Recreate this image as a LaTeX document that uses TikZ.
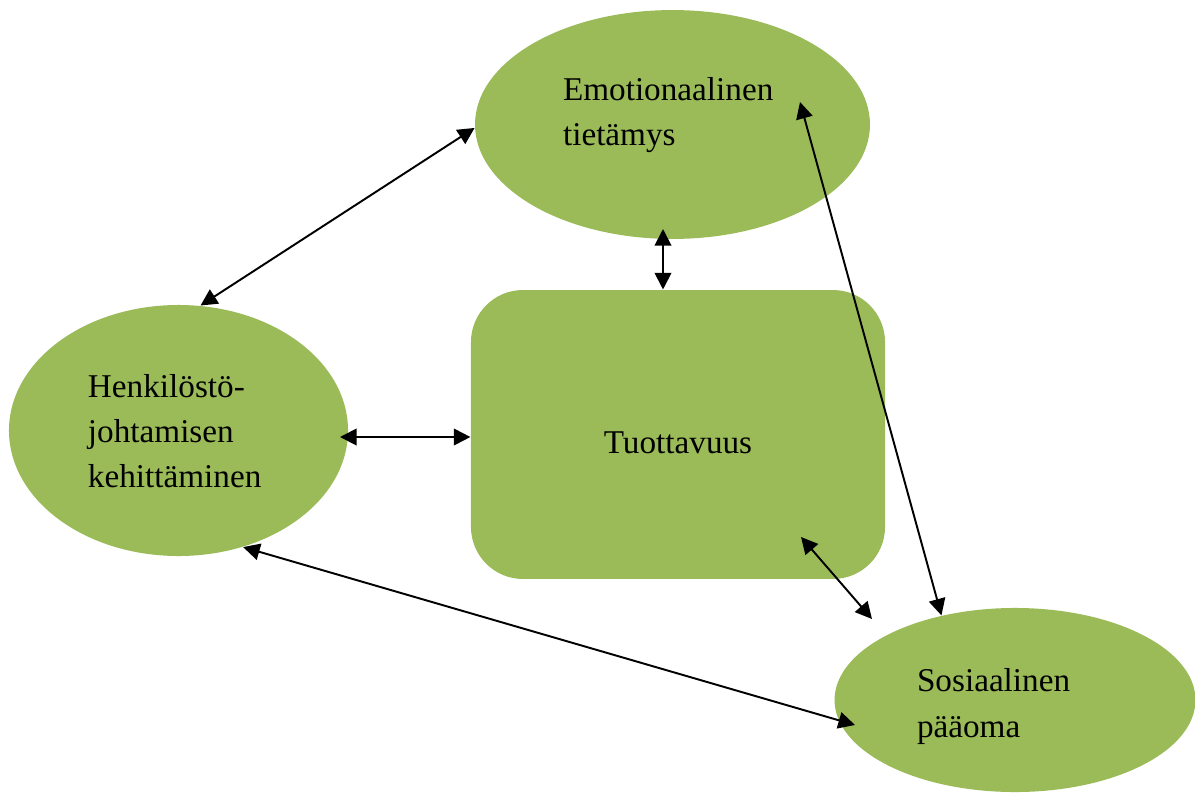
\documentclass[tikz,border=0pt]{standalone}
\usepackage{fontspec}
\setmainfont{Liberation Serif}
\usetikzlibrary{shapes.geometric,arrows.meta}
\definecolor{lehti}{HTML}{9BBB59}
\tikzset{
  pallo/.style={ellipse, fill=lehti, align=left, text height=0pt,
    font=\fontsize{12}{16.4}\selectfont},
  laatikko/.style={rectangle, rounded corners=18.8pt, fill=lehti,
    font=\fontsize{12}{16.4}\selectfont},
  nuoli/.style={<->, >={Triangle[length=6pt,width=6pt]}, line width=0.7pt}
}
\begin{document}
\begin{tikzpicture}[x=0.3613pt, y=-0.3613pt]
            \useasboundingbox (0,0) rectangle (1195,794);

            \node[pallo, minimum width=142.7pt, minimum height=82.7pt,
                  text width=79.1pt, text depth=17.7pt] (emo) at (672.5,124.5)
                  {Emotionaalinen\\tietämys};
            \node[pallo, minimum width=122.5pt, minimum height=90.7pt,
                  text width=65.4pt, text depth=24.2pt] (hen) at (178.5,430.5)
                  {Henkilöstö-\\johtamisen\\kehittäminen};
            \node[pallo, minimum width=130.4pt, minimum height=66.5pt,
                  text width=70.8pt, text depth=5.8pt] (sos) at (1015,700)
                  {Sosiaalinen\\pääoma};
            \node[laatikko, minimum width=149.6pt, minimum height=104.4pt,
                  text height=13.4pt, text depth=0pt] (tuo) at (678,434.5)
                  {Tuottavuus};

            \coordinate (emoA) at (663,229);
            \coordinate (emoO) at (800,102);
            \coordinate (henO) at (340,437);
            \coordinate (tuoA) at (801,537);
            \coordinate (sosV) at (855,725);
            \coordinate (sosY) at (872,619);

            \draw[nuoli] (emo.181) -- (hen.80);
            \draw[nuoli] (emoA) -- (emoA |- tuo.north);
            \draw[nuoli] (emoO) -- (sos.131);
            \draw[nuoli] (henO) -- (henO -| tuo.west);
            \draw[nuoli] (hen.-61) -- (sosV);
            \draw[nuoli] (tuoA) -- (sosY);
\end{tikzpicture}
\end{document}
